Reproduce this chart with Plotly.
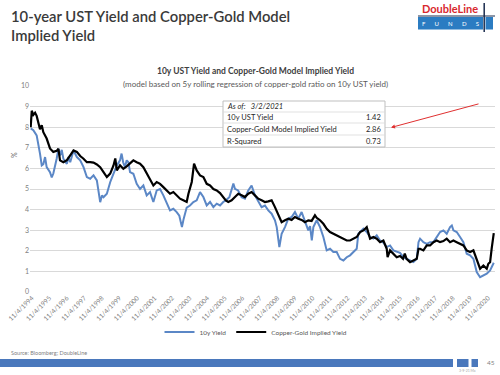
import plotly.graph_objects as go
from datetime import datetime

# ---- data (decimal years) ----
ust_years = [1994.78,1994.93,1995.12,1995.22,1995.31,1995.41,1995.50,1995.60,1995.69,1995.88,1995.98,
 1996.07,1996.17,1996.26,1996.36,1996.45,1996.55,1996.64,1996.84,1996.93,1997.03,1997.22,1997.41,1997.60,
 1997.79,1997.98,1998.17,1998.36,1998.55,1998.64,1998.74,1998.84,1998.93,1999.12,1999.31,1999.50,1999.69,
 1999.87,1999.96,2000.05,2000.15,2000.25,2000.35,2000.44,2000.63,2000.82,2001.01,2001.20,2001.39,2001.58,
 2001.77,2001.96,2002.15,2002.34,2002.53,2002.72,2002.91,2003.10,2003.25,2003.40,2003.50,2003.67,2003.86,
 2004.05,2004.24,2004.43,2004.62,2004.81,2005.00,2005.19,2005.38,2005.57,2005.75,2005.90,2006.10,2006.33,
 2006.42,2006.60,2006.80,2006.99,2007.18,2007.37,2007.56,2007.75,2007.94,2008.13,2008.32,2008.51,2008.70,
 2008.80,2008.89,2008.95,2009.08,2009.27,2009.46,2009.65,2009.84,2010.03,2010.22,2010.41,2010.60,2010.70,
 2010.80,2010.89,2011.08,2011.27,2011.46,2011.65,2011.84,2012.03,2012.22,2012.41,2012.60,2012.79,2012.98,
 2013.17,2013.36,2013.45,2013.55,2013.74,2013.93,2014.12,2014.31,2014.50,2014.69,2014.88,2015.07,2015.26,
 2015.45,2015.64,2015.83,2016.02,2016.21,2016.40,2016.59,2016.78,2016.88,2016.97,2017.16,2017.35,2017.54,
 2017.73,2017.92,2018.11,2018.30,2018.49,2018.68,2018.78,2018.87,2019.06,2019.25,2019.44,2019.63,2019.82,
 2020.01,2020.20,2020.39,2020.58,2020.77,2020.96,2021.10,2021.17]
ust_yield = [7.94,7.85,7.6,7.2,6.72,6.14,6.2,6.55,6.06,5.82,5.56,
 5.75,6.06,6.47,6.95,6.63,6.9,6.47,6.22,6.55,6.3,6.87,6.55,6.39,
 6.06,5.58,5.5,5.66,5.42,4.93,4.36,4.69,4.6,4.77,5.33,5.75,6.14,
 6.39,6.72,6.3,6.06,6.39,6.3,5.82,5.74,5.25,5.0,5.17,4.69,4.85,
 4.37,4.93,5.0,4.69,4.29,3.96,4.04,3.88,3.7,3.15,3.56,4.1,4.2,
 4.37,4.45,4.85,4.61,4.2,4.37,4.12,4.29,4.2,4.37,4.45,4.6,5.26,
 5.01,4.93,4.6,4.53,4.93,5.17,4.69,4.37,4.12,4.2,3.96,3.8,3.48,
 3.15,2.5,2.18,2.83,3.15,3.56,3.64,3.88,3.56,3.88,3.39,2.99,3.2,
 2.5,3.15,3.48,3.15,2.67,2.02,2.1,1.94,1.94,1.61,1.53,1.69,1.78,
 1.94,2.1,2.83,2.91,3.07,2.91,2.67,2.59,2.75,2.5,2.4,2.18,2.26,
 2.02,1.94,1.9,1.69,1.61,1.53,1.45,1.61,2.42,2.59,2.42,2.34,2.42,
 2.42,2.67,2.91,2.99,2.83,3.15,3.23,2.99,2.91,2.67,2.42,1.86,1.78,
 1.61,0.97,0.72,0.81,0.89,1.05,1.3,1.42]

model_years = [1994.78,1994.84,1994.93,1995.03,1995.12,1995.22,1995.31,1995.41,1995.50,1995.69,1995.88,
 1996.07,1996.26,1996.36,1996.45,1996.64,1996.84,1997.03,1997.22,1997.41,1997.60,1997.79,1997.98,1998.17,
 1998.36,1998.55,1998.74,1998.93,1999.12,1999.31,1999.50,1999.60,1999.69,1999.87,2000.06,2000.25,2000.44,
 2000.63,2000.82,2001.01,2001.20,2001.39,2001.58,2001.77,2001.96,2002.15,2002.34,2002.53,2002.72,2002.91,
 2003.10,2003.29,2003.48,2003.67,2003.77,2003.86,2003.96,2004.09,2004.24,2004.43,2004.62,2004.81,2005.00,
 2005.19,2005.38,2005.57,2005.75,2005.90,2006.04,2006.23,2006.42,2006.61,2006.80,2006.99,2007.18,2007.37,
 2007.56,2007.75,2007.94,2008.13,2008.32,2008.51,2008.70,2008.89,2009.08,2009.27,2009.46,2009.65,2009.84,
 2010.03,2010.22,2010.41,2010.60,2010.79,2010.98,2011.08,2011.27,2011.46,2011.65,2011.84,2012.03,2012.22,
 2012.41,2012.60,2012.79,2012.98,2013.17,2013.36,2013.55,2013.74,2013.93,2014.03,2014.12,2014.31,2014.50,
 2014.69,2014.88,2015.07,2015.12,2015.26,2015.45,2015.64,2015.83,2016.00,2016.10,2016.20,2016.40,2016.60,
 2016.78,2016.88,2016.97,2017.16,2017.35,2017.54,2017.73,2017.92,2018.11,2018.30,2018.49,2018.68,2018.87,
 2019.06,2019.25,2019.44,2019.63,2019.82,2020.01,2020.20,2020.39,2020.58,2020.77,2020.86,2020.96,2021.05,
 2021.14,2021.17]
model_yield = [8.0,8.8,8.6,8.7,8.55,8.2,7.9,8.1,7.76,7.45,6.97,
 6.8,6.85,6.95,6.39,6.3,6.4,6.63,6.87,6.8,6.6,6.47,6.3,6.3,
 6.28,6.19,6.06,5.82,5.58,5.75,6.14,6.48,5.9,6.15,5.98,6.1,6.23,
 6.39,6.3,6.23,6.06,5.74,5.5,5.17,5.34,5.25,5.09,4.93,4.77,4.85,
 4.69,4.53,4.45,4.37,4.77,5.0,5.34,6.23,5.9,5.66,5.58,5.25,5.17,
 5.0,4.93,4.8,4.6,4.45,4.37,4.45,4.61,4.77,4.7,4.61,4.77,4.85,
 4.69,4.53,4.45,4.37,4.4,4.45,4.12,3.72,3.39,3.48,3.56,3.5,3.64,
 3.56,3.5,3.39,3.48,3.45,3.72,3.6,3.48,3.31,3.07,2.91,2.83,2.75,
 2.67,2.59,2.5,2.5,2.59,2.67,2.91,2.99,3.15,2.83,2.59,2.67,2.59,
 2.42,2.5,2.1,1.69,2.02,1.86,1.69,1.75,1.61,1.86,1.61,1.45,1.53,
 1.61,2.1,2.1,2.02,2.26,2.26,2.42,2.5,2.42,2.47,2.59,2.42,2.5,
 2.42,2.34,2.26,2.02,1.94,2.02,1.53,1.13,1.29,1.13,1.37,1.45,2.1,
 2.75,2.86]

tick_years = list(range(1994, 2021))
tick_labels = [f"11/4/{y}" for y in tick_years]

table_labels = ["10y UST Yield", "Copper-Gold Model Implied Yield", "R-Squared"]
table_values = ["1.42", "2.86", "0.73"]
as_of = "3/2/2021"


def dec2date(y):
    yr = int(y)
    s = datetime(yr, 1, 1)
    e = datetime(yr + 1, 1, 1)
    return s + (e - s) * (y - yr)


FONT = "Lato, 'Open Sans', sans-serif"
W, H = 500, 375
ML, MR, MT, MB = 30, 5, 86, 83
PW, PH = W - ML - MR, H - MT - MB


def px(x):
    return (x - ML) / PW


def py(y):
    return (H - MB - y) / PH


fig = go.Figure()
fig.add_trace(go.Scatter(x=[dec2date(v) for v in ust_years], y=ust_yield, mode="lines",
                         name="10y Yield", line=dict(color="#5b87c6", width=2)))
fig.add_trace(go.Scatter(x=[dec2date(v) for v in model_years], y=model_yield, mode="lines",
                         name="Copper-Gold Implied Yield", line=dict(color="#000000", width=2.2)))

shapes = []
ann = []

# slide title
ann.append(dict(text="10-year UST Yield and Copper-Gold Model<br>Implied Yield", x=px(9), y=py(5),
                xref="paper", yref="paper", xanchor="left", yanchor="top", align="left", showarrow=False,
                font=dict(family=FONT, size=14.8, color="#3a3a3a", weight=600)))
# chart title
ann.append(dict(text="<b>10y UST Yield and Copper-Gold Model Implied Yield</b>", x=px(255), y=py(71.5),
                xref="paper", yref="paper", xanchor="center", yanchor="middle", showarrow=False,
                font=dict(family=FONT, size=8.5, color="#404040")))
ann.append(dict(text="(model based on 5y rolling regression of copper-gold ratio on 10y UST yield)",
                x=px(255), y=py(84), xref="paper", yref="paper", xanchor="center", yanchor="middle",
                showarrow=False, font=dict(family=FONT, size=8, color="#595959")))
# y label
ann.append(dict(text="%", x=px(8), y=py(155), xref="paper", yref="paper", textangle=-90, showarrow=False,
                font=dict(family=FONT, size=7, color="#595959")))

# table
tx0, tx1 = 223, 385
rows_y = [101, 112, 123, 135, 147]
shapes.append(dict(type="rect", xref="paper", yref="paper", x0=px(tx0), x1=px(tx1), y0=py(rows_y[0]),
                   y1=py(rows_y[-1]), line=dict(color="#bfbfbf", width=1), fillcolor="white"))
for yy in rows_y[1:-1]:
    shapes.append(dict(type="line", xref="paper", yref="paper", x0=px(tx0), x1=px(tx1), y0=py(yy), y1=py(yy),
                       line=dict(color="#d9d9d9", width=0.8)))
ann.append(dict(text=f"<i>As of:   {as_of}</i>", x=px(tx0 + 2), y=py((rows_y[0] + rows_y[1]) / 2),
                xref="paper", yref="paper", xanchor="left", yanchor="middle", showarrow=False,
                font=dict(family=FONT, size=7.5, color="#262626")))
for i, (lab, val) in enumerate(zip(table_labels, table_values)):
    yc = (rows_y[i + 1] + rows_y[i + 2]) / 2
    ann.append(dict(text=lab, x=px(tx0 + 2), y=py(yc), xref="paper", yref="paper", xanchor="left",
                    yanchor="middle", showarrow=False, font=dict(family=FONT, size=7.5, color="#262626")))
    ann.append(dict(text=val, x=px(tx1 - 2), y=py(yc), xref="paper", yref="paper", xanchor="right",
                    yanchor="middle", showarrow=False, font=dict(family=FONT, size=7.5, color="#262626")))
# red arrow
ann.append(dict(text="", x=px(391), y=py(127.5), xref="paper", yref="paper", ax=89, ay=-24,
                showarrow=True, arrowhead=2, arrowsize=0.8, arrowwidth=1, arrowcolor="#e03030"))

# logo
shapes.append(dict(type="rect", xref="paper", yref="paper", x0=px(418), x1=px(483), y0=py(17), y1=py(29.5),
                   fillcolor="#2b7cc2", line=dict(width=0)))
shapes.append(dict(type="rect", xref="paper", yref="paper", x0=px(485.5), x1=px(493), y0=py(17), y1=py(29.5),
                   fillcolor="#2b7cc2", line=dict(width=0)))
shapes.append(dict(type="line", xref="paper", yref="paper", x0=px(484.2), x1=px(484.2), y0=py(3), y1=py(32),
                   line=dict(color="#1b2c4e", width=1.5)))
shapes.append(dict(type="line", xref="paper", yref="paper", x0=px(418), x1=px(495), y0=py(16), y1=py(16),
                   line=dict(color="#1b2c4e", width=1)))
ann.append(dict(text="<b>DoubleLine</b>", x=px(450), y=py(9), xref="paper", yref="paper", showarrow=False,
                xanchor="center", yanchor="middle", font=dict(family=FONT, size=11, color="#d8282e")))
ann.append(dict(text="F      U      N      D      S", x=px(450), y=py(23.5), xref="paper", yref="paper",
                showarrow=False, xanchor="center", yanchor="middle",
                font=dict(family=FONT, size=6, color="white")))

# footer
ann.append(dict(text="Source: Bloomberg; DoubleLine", x=px(9), y=py(353), xref="paper", yref="paper",
                xanchor="left", yanchor="middle", showarrow=False, font=dict(family=FONT, size=5.5, color="#7f7f7f")))
shapes.append(dict(type="rect", xref="paper", yref="paper", x0=px(0), x1=px(453), y0=py(359), y1=py(367),
                   fillcolor="#4a78bc", line=dict(width=0)))
shapes.append(dict(type="rect", xref="paper", yref="paper", x0=px(457), x1=px(468.5), y0=py(359), y1=py(367),
                   fillcolor="#4a78bc", line=dict(width=0)))
shapes.append(dict(type="rect", xref="paper", yref="paper", x0=px(471.5), x1=px(478), y0=py(359), y1=py(367),
                   fillcolor="#4a78bc", line=dict(width=0)))
ann.append(dict(text="45", x=px(491), y=py(362.5), xref="paper", yref="paper", showarrow=False,
                xanchor="center", yanchor="middle", font=dict(family=FONT, size=6.5, color="#7f7f7f")))
ann.append(dict(text="3-9-21 Ma", x=px(467), y=py(371), xref="paper", yref="paper", showarrow=False,
                xanchor="center", yanchor="middle", font=dict(family=FONT, size=3.5, color="#a6a6a6")))

fig.update_layout(
    width=W, height=H, margin=dict(l=ML, r=MR, t=MT, b=MB),
    paper_bgcolor="white", plot_bgcolor="white",
    font=dict(family=FONT, color="#595959"),
    shapes=shapes, annotations=ann,
    showlegend=True,
    legend=dict(orientation="h", x=px(256), xanchor="center", y=py(332), yanchor="middle",
                font=dict(family=FONT, size=6.5, color="#595959"), itemwidth=30, bgcolor="rgba(0,0,0,0)",
                tracegroupgap=0),
)
fig.update_xaxes(type="date", range=[dec2date(1994.74), dec2date(2021.24)],
                 tickvals=[datetime(y, 11, 4) for y in tick_years], ticktext=tick_labels,
                 tickangle=-45, tickfont=dict(family=FONT, size=6.5, color="#7f7f7f"),
                 showgrid=False, showline=False, zeroline=False, ticks="")
fig.update_yaxes(range=[0, 10], dtick=1, showgrid=True, gridcolor="#d9d9d9", gridwidth=1,
                 zeroline=False, showline=False, ticks="",
                 tickfont=dict(family=FONT, size=7, color="#7f7f7f"))

fig.write_html("out.html", config={"displayModeBar": False},
               post_script="document.body.style.margin='0';document.body.style.overflow='hidden';")
